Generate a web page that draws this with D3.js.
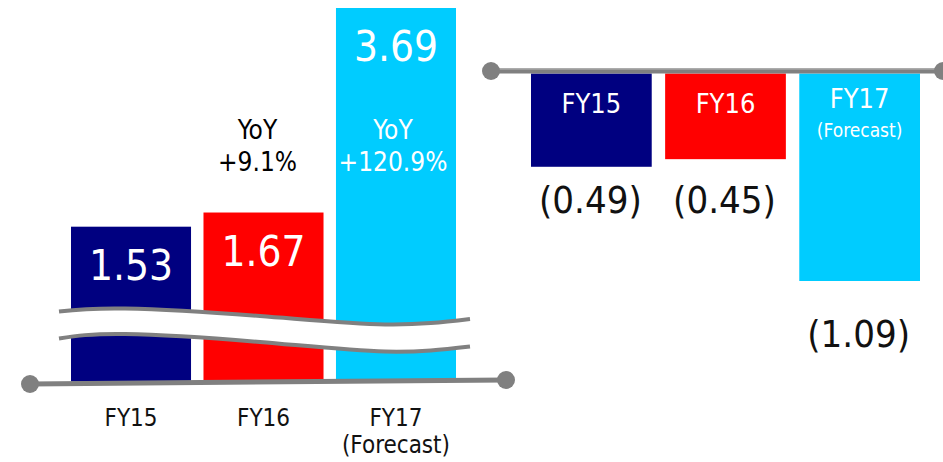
<!DOCTYPE html>
<html>
<head>
<meta charset="utf-8">
<script src="https://cdn.jsdelivr.net/npm/d3@7"></script>
<style>
  body { margin: 0; background: #fff; }
  text { font-family: "DejaVu Sans Condensed", "DejaVu Sans", sans-serif; }
</style>
</head>
<body>
<div id="chart"></div>
<script>
// data
var years = ["FY15", "FY16", "FY17"];
var forecastFlag = [false, false, true];
var leftValues = [1.53, 1.67, 3.69];
var leftLabels = ["1.53", "1.67", "3.69"];
var yoyLabels = [null, "+9.1%", "+120.9%"];
var rightValues = [-0.49, -0.45, -1.09];
var rightLabels = ["(0.49)", "(0.45)", "(1.09)"];
var colors = ["#000080", "#ff0000", "#00ccff"];

var width = 943, height = 462;
var grey = "#808080";

var svg = d3.select("#chart")
  .append("svg")
  .attr("width", width)
  .attr("height", height);

// ---- left chart ----
var xL = d3.scaleBand()
  .domain(years)
  .range([71, 456])
  .paddingInner(0.094)
  .paddingOuter(0);

var yL = d3.scaleLinear()
  .domain([0, 3.69])
  .range([381.6, 8]);

var left = svg.append("g");

left.selectAll("rect")
  .data(leftValues)
  .enter()
  .append("rect")
    .attr("x", function(d, i) { return xL(years[i]); })
    .attr("y", function(d) { return yL(d); })
    .attr("width", xL.bandwidth())
    .attr("height", function(d) { return yL(0) - yL(d); })
    .attr("fill", function(d, i) { return colors[i]; });

// break marks (decoration)
var bx = [59, 125, 260, 385, 470],
    bUp = [311.5, 308.5, 316, 324.5, 319],
    bLo = [338.5, 334, 342, 351.5, 346.5];
var pts = bx.map(function(x, i) { return {x: x, u: bUp[i], l: bLo[i]}; });

left.append("path")
  .attr("d", d3.area()
    .x(function(d) { return d.x; })
    .y0(function(d) { return d.u; })
    .y1(function(d) { return d.l; })
    .curve(d3.curveNatural)(pts))
  .attr("fill", "#fff");

["u", "l"].forEach(function(k) {
  left.append("path")
    .attr("d", d3.line()
      .x(function(d) { return d.x; })
      .y(function(d) { return d[k]; })
      .curve(d3.curveNatural)(pts))
    .attr("fill", "none")
    .attr("stroke", grey)
    .attr("stroke-width", 4);
});

// value labels
left.selectAll(".val")
  .data(leftValues)
  .enter()
  .append("text")
    .attr("x", function(d, i) { return xL(years[i]) + xL.bandwidth() / 2; })
    .attr("y", function(d) { return yL(d) + 53; })
    .attr("text-anchor", "middle")
    .attr("font-size", 42)
    .attr("fill", "#fff")
    .text(function(d, i) { return leftLabels[i]; });

// YoY labels
yoyLabels.forEach(function(t, i) {
  if (!t) return;
  var cx = xL(years[i]) + xL.bandwidth() / 2 - (i == 1 ? 6 : 3);
  var col = i == 2 ? "#fff" : "#000";
  left.append("text")
    .attr("x", cx).attr("y", 139)
    .attr("text-anchor", "middle")
    .attr("font-size", 26)
    .attr("fill", col)
    .text("YoY");
  left.append("text")
    .attr("x", cx).attr("y", 171)
    .attr("text-anchor", "middle")
    .attr("font-size", 26)
    .attr("fill", col)
    .text(t);
});

// axis line
left.append("line")
  .attr("x1", 30).attr("y1", 384)
  .attr("x2", 506).attr("y2", 380)
  .attr("stroke", grey)
  .attr("stroke-width", 5);
left.append("circle").attr("cx", 30).attr("cy", 384).attr("r", 9).attr("fill", grey);
left.append("circle").attr("cx", 506).attr("cy", 380).attr("r", 9).attr("fill", grey);

// category labels
years.forEach(function(c, i) {
  var cx = xL(c) + xL.bandwidth() / 2;
  left.append("text")
    .attr("x", cx).attr("y", 426)
    .attr("text-anchor", "middle")
    .attr("font-size", 24)
    .attr("fill", "#111")
    .text(c);
  if (forecastFlag[i]) {
    left.append("text")
      .attr("x", cx).attr("y", 453)
      .attr("text-anchor", "middle")
      .attr("font-size", 24)
      .attr("fill", "#111")
      .text("(Forecast)");
  }
});

// ---- right chart ----
var xR = d3.scaleBand()
  .domain(years)
  .range([531, 920])
  .paddingInner(0.1)
  .paddingOuter(0);

var yR = d3.scaleLinear()
  .domain([0, -1.09])
  .range([73.5, 281]);

var right = svg.append("g");

right.selectAll("rect")
  .data(rightValues)
  .enter()
  .append("rect")
    .attr("x", function(d, i) { return xR(years[i]); })
    .attr("y", yR(0))
    .attr("width", xR.bandwidth())
    .attr("height", function(d) { return yR(d) - yR(0); })
    .attr("fill", function(d, i) { return colors[i]; });

right.append("line")
  .attr("x1", 491).attr("y1", 71)
  .attr("x2", 943).attr("y2", 71)
  .attr("stroke", grey)
  .attr("stroke-width", 5);
right.append("line")
  .attr("x1", 491).attr("y1", 69)
  .attr("x2", 943).attr("y2", 69)
  .attr("stroke", "#a6a6a6")
  .attr("stroke-width", 1.5);
right.append("circle").attr("cx", 491).attr("cy", 71).attr("r", 9).attr("fill", grey);
right.append("circle").attr("cx", 943).attr("cy", 71).attr("r", 9).attr("fill", grey);

// labels inside bars
years.forEach(function(c, i) {
  var cx = xR(c) + xR.bandwidth() / 2;
  right.append("text")
    .attr("x", cx).attr("y", forecastFlag[i] ? 108 : 113)
    .attr("text-anchor", "middle")
    .attr("font-size", 27)
    .attr("fill", "#fff")
    .text(c);
  if (forecastFlag[i]) {
    right.append("text")
      .attr("x", cx).attr("y", 137)
      .attr("text-anchor", "middle")
      .attr("font-size", 19)
      .attr("fill", "#fff")
      .text("(Forecast)");
  }
});

// value labels below bars
var lowFirst = d3.min(rightValues.slice(0, 2));
right.selectAll(".val")
  .data(rightValues)
  .enter()
  .append("text")
    .attr("x", function(d, i) { return xR(years[i]) + xR.bandwidth() / 2 - 1; })
    .attr("y", function(d, i) { return i < 2 ? yR(lowFirst) + 46 : yR(d) + 66; })
    .attr("text-anchor", "middle")
    .attr("font-size", 38)
    .attr("fill", "#111")
    .text(function(d, i) { return rightLabels[i]; });
</script>
</body>
</html>
